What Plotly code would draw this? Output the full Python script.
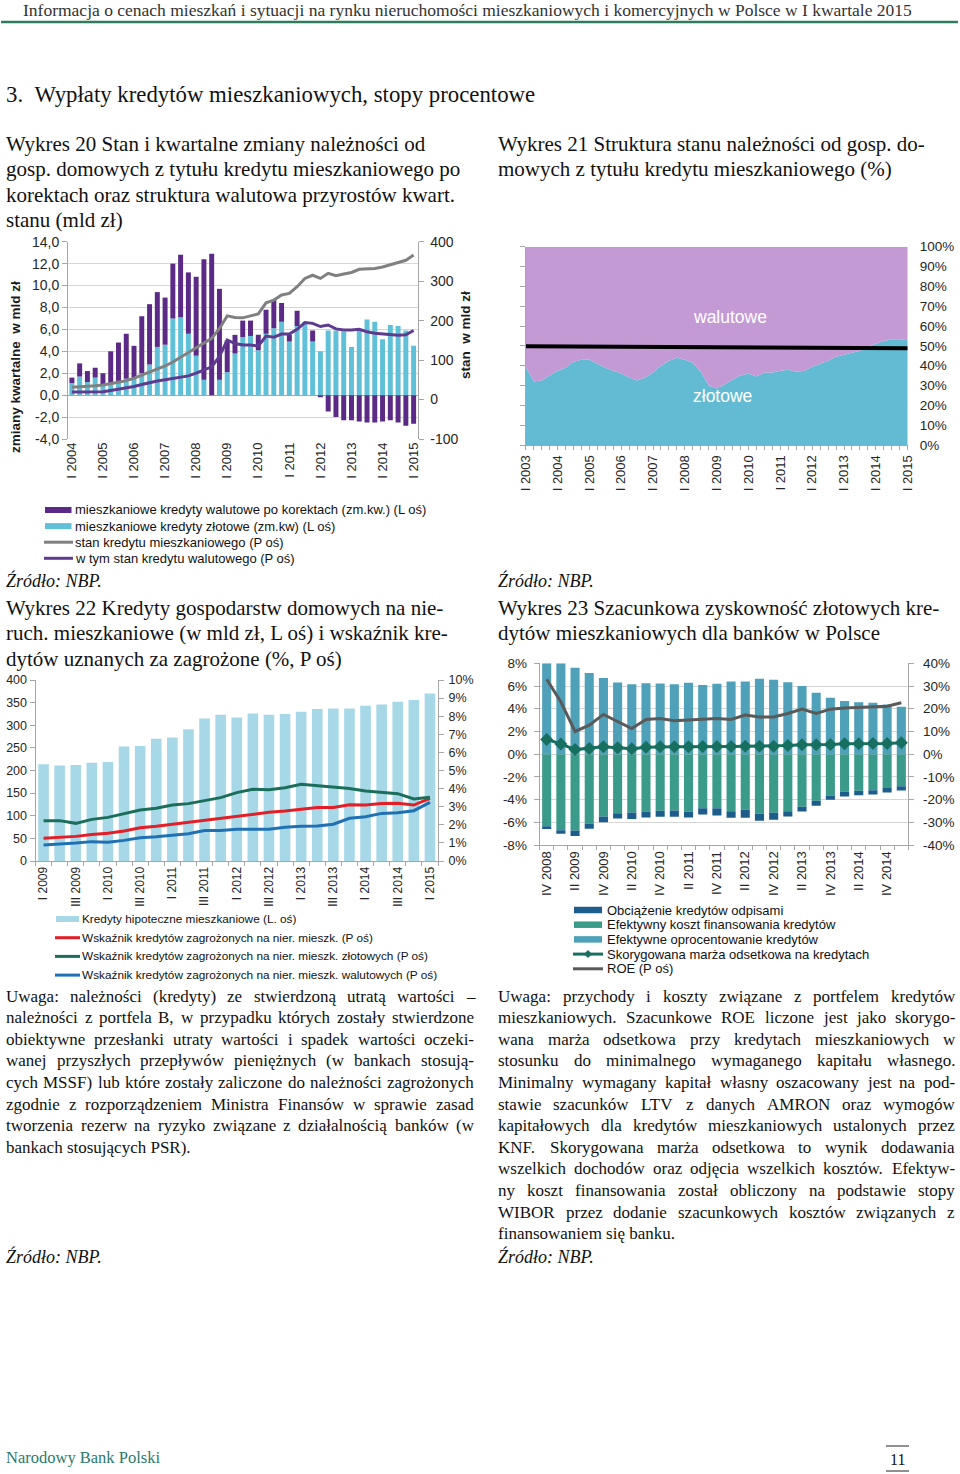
import plotly.graph_objects as go

W, H = 960, 1474


def px(x):
    return x / W


def py(y):
    return 1 - y / H


# ---------------- DATA ----------------
# Wykres 20 (I 2004 .. I 2015, quarterly)
years20 = ["I 2004", "I 2005", "I 2006", "I 2007", "I 2008", "I 2009", "I 2010",
           "I 2011", "I 2012", "I 2013", "I 2014", "I 2015"]
zlotowe20 = [1.1, 1.7, 1.2, 1.6, 1.0, 1.0, 1.3, 1.5, 1.6, 2.0, 2.8, 4.4,
             4.6, 7.0, 7.1, 5.6, 3.6, 1.4, 0.0, 1.4, 2.1, 3.8, 5.3, 5.4,
             4.1, 5.6, 6.1, 6.7, 4.9, 6.3, 6.7, 4.9, 4.0, 5.9, 5.9, 5.8,
             4.4, 5.9, 6.9, 6.7, 5.1, 6.4, 6.3, 5.9, 4.5]
walutowe20 = [0.5, 1.2, 1.0, 0.9, 1.0, 3.0, 3.5, 4.1, 2.9, 5.2, 5.5, 5.0,
              4.3, 5.0, 5.7, 5.6, 7.2, 11.0, 12.9, 8.3, 2.9, 1.7, 1.5, 1.4,
              1.4, 2.2, 2.6, 1.7, 0.6, 1.4, 0.0, 1.0, -0.2, -1.5, -2.0, -2.3,
              -2.3, -2.4, -2.5, -2.5, -2.4, -2.3, -2.5, -2.8, -2.6]
stan20 = [31, 32, 33, 35, 37, 40, 44, 48, 54, 62, 69, 77, 85, 95, 107, 119,
          129, 141, 155, 180, 212, 208, 207, 212, 217, 245, 252, 265, 269, 286,
          307, 315, 307, 320, 314, 318, 322, 330, 331, 332, 336, 342, 347, 353, 366]
stan_wal20 = [19, 19, 19, 20, 20, 23, 26, 29, 33, 38, 43, 47, 50, 53, 56, 60,
              67, 75, 83, 109, 151, 142, 138, 138, 136, 161, 158, 166, 166, 178,
              195, 193, 185, 189, 179, 176, 176, 178, 172, 168, 166, 164, 163, 164, 175]
yticks20 = ["-4,0", "-2,0", "0,0", "2,0", "4,0", "6,0", "8,0", "10,0", "12,0", "14,0"]
yticks20r = ["-100", "0", "100", "200", "300", "400"]

# Wykres 21 (I 2003 .. I 2015, quarterly shares, %)
years21 = ["I 2003", "I 2004", "I 2005", "I 2006", "I 2007", "I 2008", "I 2009",
           "I 2010", "I 2011", "I 2012", "I 2013", "I 2014", "I 2015"]
zlotowe21 = [39.5, 32, 32.5, 35, 37.5, 39, 42, 43, 43, 41, 39, 37.5, 36, 34, 32.5,
             34, 36.5, 40, 42.5, 44, 43, 41.5, 37, 30, 28.5, 30.5, 33, 35, 36, 34.5,
             36.5, 36.5, 37.5, 38, 37, 37.5, 39.5, 41, 42.5, 44.5, 45.5, 46.5, 47.5,
             49.5, 51, 52.5, 53.3, 53.3, 52.8]
walutowe21 = [60.5, 68, 67.5, 65, 62.5, 61, 58, 57, 57, 59, 61, 62.5, 64, 66, 67.5,
              66, 63.5, 60, 57.5, 56, 57, 58.5, 63, 70, 71.5, 69.5, 67, 65, 64, 65.5,
              63.5, 63.5, 62.5, 62, 63, 62.5, 60.5, 59, 57.5, 55.5, 54.5, 53.5, 52.5,
              50.5, 49, 47.5, 46.7, 46.7, 47.2]
linia21 = [49.8, 48.8]
yticks21 = ["0%", "10%", "20%", "30%", "40%", "50%", "60%", "70%", "80%", "90%", "100%"]

# Wykres 22 (I 2009 .. I 2015)
labels22 = ["I 2009", "III 2009", "I 2010", "III 2010", "I 2011", "III 2011", "I 2012",
            "III 2012", "I 2013", "III 2013", "I 2014", "III 2014", "I 2015"]
kredyty22 = [214, 211, 212, 217, 219, 253, 254, 270, 273, 291, 315, 323, 317, 326,
             323, 325, 330, 336, 337, 337, 343, 346, 352, 356, 370]
zagr22 = [1.25, 1.29, 1.36, 1.47, 1.53, 1.66, 1.84, 1.92, 2.03, 2.14, 2.25, 2.39, 2.50,
          2.60, 2.69, 2.76, 2.85, 2.95, 2.95, 3.11, 3.09, 3.17, 3.19, 3.09, 3.46]
zagr_zl22 = [2.23, 2.23, 2.08, 2.30, 2.41, 2.60, 2.82, 2.91, 3.09, 3.17, 3.33, 3.50, 3.78,
             3.96, 3.94, 4.05, 4.24, 4.16, 4.07, 4.01, 3.87, 3.78, 3.72, 3.43, 3.52]
zagr_wal22 = [0.88, 0.92, 0.99, 1.07, 1.03, 1.14, 1.29, 1.34, 1.44, 1.51, 1.68, 1.68, 1.75,
              1.75, 1.75, 1.86, 1.92, 1.93, 2.03, 2.36, 2.45, 2.63, 2.67, 2.78, 3.24]
yticks22 = ["0", "50", "100", "150", "200", "250", "300", "350", "400"]
yticks22r = ["0%", "1%", "2%", "3%", "4%", "5%", "6%", "7%", "8%", "9%", "10%"]

# Wykres 23 (IV 2008 .. I 2015)
labels23 = ["IV 2008", "II 2009", "IV 2009", "II 2010", "IV 2010", "II 2011", "IV 2011",
            "II 2012", "IV 2012", "II 2013", "IV 2013", "II 2014", "IV 2014"]
oproc23 = [8.0, 8.0, 7.6, 7.15, 6.7, 6.3, 6.15, 6.25, 6.22, 6.15, 6.28, 6.1, 6.2, 6.4,
           6.4, 6.63, 6.55, 6.34, 6.0, 5.4, 4.96, 4.67, 4.58, 4.52, 4.37, 4.17]
koszt23 = [-6.34, -6.7, -6.72, -6.1, -5.5, -5.2, -5.14, -5.05, -4.99, -4.96, -5.08, -4.76,
           -4.76, -5.02, -4.9, -5.23, -5.17, -5.02, -4.64, -4.11, -3.64, -3.32, -3.23,
           -3.17, -2.97, -2.82]
odpisy23 = [-0.26, -0.3, -0.48, -0.48, -0.5, -0.47, -0.56, -0.53, -0.53, -0.56, -0.5,
            -0.55, -0.64, -0.58, -0.7, -0.64, -0.61, -0.47, -0.41, -0.44, -0.38, -0.41,
            -0.38, -0.38, -0.41, -0.38]
marza23 = [1.3, 0.9, 0.4, 0.5, 0.65, 0.56, 0.47, 0.6, 0.65, 0.65, 0.65, 0.68, 0.68, 0.68,
           0.7, 0.7, 0.7, 0.76, 0.82, 0.82, 0.85, 0.91, 0.91, 0.94, 0.94, 1.0]
roe23 = [33, 23, 10, 12.8, 17.5, 14.5, 11.3, 15.3, 15.7, 14.7, 15, 15.4, 15.7, 15.3,
         17.2, 16.4, 16.4, 17.9, 19.8, 17.9, 19.8, 20.3, 20.6, 21.1, 21.1, 22.6]
yticks23 = ["-8%", "-6%", "-4%", "-2%", "0%", "2%", "4%", "6%", "8%"]
yticks23r = ["-40%", "-30%", "-20%", "-10%", "0%", "10%", "20%", "30%", "40%"]

# ---------------- STYLE ----------------
SANS = "Liberation Sans, Arial, sans-serif"
SERIF = "Liberation Serif, Times New Roman, serif"
AX = "#a6a6a6"
TXT = "#262626"

PURPLE_BAR = "#5b2a86"
CYAN_BAR = "#60c0d8"
GRAY_LINE = "#808080"
PURPLE_LINE = "#5e3b8f"
WAL_AREA = "#c49ad5"
ZL_AREA = "#62bbd3"
C22_BAR = "#a7d8e7"
RED = "#e41e26"
GREEN = "#1b6e59"
BLUE = "#2070b4"
C23_UP = "#4ea1b8"
C23_COST = "#3b9b8b"
C23_WO = "#1c5d8c"
C23_MARZA = "#17705f"
C23_ROE = "#5a5a5a"

fig = go.Figure()

# ---- Wykres 20
n20 = len(zlotowe20)
x20 = list(range(n20))
fig.add_trace(go.Bar(x=x20, y=zlotowe20, name="mieszkaniowe kredyty złotowe (zm.kw) (L oś)",
                     marker=dict(color=CYAN_BAR, line=dict(width=0)), width=0.64,
                     xaxis="x", yaxis="y"))
fig.add_trace(go.Bar(x=x20, y=walutowe20,
                     name="mieszkaniowe kredyty walutowe po korektach (zm.kw.) (L oś)",
                     marker=dict(color=PURPLE_BAR, line=dict(width=0)), width=0.64,
                     xaxis="x", yaxis="y"))
fig.add_trace(go.Scatter(x=x20, y=stan20, mode="lines", name="stan kredytu mieszkaniowego (P oś)",
                         line=dict(color=GRAY_LINE, width=3), xaxis="x", yaxis="y2"))
fig.add_trace(go.Scatter(x=x20, y=stan_wal20, mode="lines",
                         name="w tym stan kredytu walutowego (P oś)",
                         line=dict(color=PURPLE_LINE, width=3), xaxis="x", yaxis="y2"))

# ---- Wykres 21
n21 = len(zlotowe21)
x21 = list(range(n21))
fig.add_trace(go.Scatter(x=x21, y=zlotowe21, name="złotowe", mode="none", stackgroup="one",
                         fillcolor=ZL_AREA, xaxis="x2", yaxis="y3"))
fig.add_trace(go.Scatter(x=x21, y=walutowe21, name="walutowe", mode="none", stackgroup="one",
                         fillcolor=WAL_AREA, xaxis="x2", yaxis="y3"))
fig.add_trace(go.Scatter(x=[x21[0], x21[-1]], y=linia21, mode="lines", name="50%",
                         line=dict(color="#000000", width=4), xaxis="x2", yaxis="y4"))

# ---- Wykres 22
n22 = len(kredyty22)
x22 = list(range(n22))
fig.add_trace(go.Bar(x=x22, y=kredyty22, name="Kredyty hipoteczne mieszkaniowe (L. oś)",
                     marker=dict(color=C22_BAR, line=dict(width=0)), width=0.66,
                     xaxis="x3", yaxis="y5"))
fig.add_trace(go.Scatter(x=x22, y=zagr22, mode="lines",
                         name="Wskaźnik kredytów zagrożonych na nier. mieszk. (P oś)",
                         line=dict(color=RED, width=3), xaxis="x3", yaxis="y6"))
fig.add_trace(go.Scatter(x=x22, y=zagr_zl22, mode="lines",
                         name="Wskaźnik kredytów zagrożonych na nier. mieszk. złotowych (P oś)",
                         line=dict(color=GREEN, width=3), xaxis="x3", yaxis="y6"))
fig.add_trace(go.Scatter(x=x22, y=zagr_wal22, mode="lines",
                         name="Wskaźnik kredytów zagrożonych na nier. mieszk. walutowych (P oś)",
                         line=dict(color=BLUE, width=3), xaxis="x3", yaxis="y6"))

# ---- Wykres 23
n23 = len(oproc23)
x23 = list(range(n23))
fig.add_trace(go.Bar(x=x23, y=koszt23, name="Efektywny koszt finansowania kredytów",
                     marker=dict(color=C23_COST, line=dict(width=0)), width=0.64,
                     xaxis="x4", yaxis="y7"))
fig.add_trace(go.Bar(x=x23, y=odpisy23, name="Obciążenie kredytów odpisami",
                     marker=dict(color=C23_WO, line=dict(width=0)), width=0.64,
                     xaxis="x4", yaxis="y7"))
fig.add_trace(go.Bar(x=x23, y=oproc23, name="Efektywne oprocentowanie kredytów",
                     marker=dict(color=C23_UP, line=dict(width=0)), width=0.64,
                     xaxis="x4", yaxis="y7"))
fig.add_trace(go.Scatter(x=x23, y=marza23, mode="lines+markers",
                         name="Skorygowana marża odsetkowa na kredytach",
                         line=dict(color=C23_MARZA, width=3),
                         marker=dict(symbol="diamond", size=10, color=C23_MARZA),
                         xaxis="x4", yaxis="y7"))
fig.add_trace(go.Scatter(x=x23, y=roe23, mode="lines", name="ROE (P oś)",
                         line=dict(color=C23_ROE, width=3), xaxis="x4", yaxis="y8"))

# ---------------- AXES ----------------
tf = lambda s: dict(family=SANS, size=s, color=TXT)


def yax(dom, rng, vals, text, side="left", grid=False, overlay=None, anchor=None,
        size=13, labels=True, zeroline=False, standoff=0):
    d = dict(range=rng, tickmode="array", tickvals=vals, ticktext=text, side=side,
             showgrid=grid, gridcolor="#d6d6d6", gridwidth=1, zeroline=zeroline,
             zerolinecolor=AX, zerolinewidth=1, automargin=False,
             showline=True, linecolor=AX, linewidth=1, ticks="outside", ticklen=5,
             tickcolor=AX, tickfont=tf(size), showticklabels=labels, fixedrange=True,
             ticklabelstandoff=standoff)
    if overlay:
        d["overlaying"] = overlay
    else:
        d["domain"] = dom
    if anchor:
        d["anchor"] = anchor
    return d


def rng_vals(a, b, step):
    out, v = [], a
    while v <= b + 1e-9:
        out.append(v)
        v += step
    return out


layout = dict(
    width=W, height=H, margin=dict(l=0, r=0, t=0, b=0, autoexpand=False),
    paper_bgcolor="white", plot_bgcolor="rgba(0,0,0,0)",
    barmode="relative", showlegend=False, hovermode=False,
)

# chart 20
layout["xaxis"] = dict(domain=[px(68), px(417.5)], anchor="y", range=[-0.5, n20 - 0.5],
                       tickmode="array", tickvals=[4 * i for i in range(len(years20))],
                       ticktext=years20, tickangle=-90, ticks="", showline=False,
                       showgrid=False, zeroline=False, tickfont=tf(13), fixedrange=True,
                       automargin=False)
layout["yaxis"] = yax([py(439), py(241.7)], [-4, 14], rng_vals(-4, 14, 2), yticks20,
                      grid=True, anchor="x", size=14, zeroline=True)
layout["yaxis2"] = yax(None, [-100, 400], rng_vals(-100, 400, 100), yticks20r, side="right",
                       overlay="y", anchor="x", size=14, standoff=4)

# chart 21
layout["xaxis2"] = dict(domain=[px(525.7), px(907.7)], anchor="y3", range=[0, n21 - 1],
                        tickmode="array", tickvals=[4 * i for i in range(len(years21))],
                        ticktext=years21, tickangle=-90, ticks="outside", ticklen=4,
                        tickcolor=AX, showline=True, linecolor=AX, showgrid=False,
                        zeroline=False, tickfont=tf(13), fixedrange=True, automargin=False,
                        minor=dict(ticks="outside", tick0=0, dtick=1, ticklen=4,
                                   tickcolor=AX, showgrid=False))
layout["yaxis3"] = yax([py(445), py(246.7)], [0, 100], rng_vals(0, 100, 10), yticks21,
                       anchor="x2", labels=False)
layout["yaxis4"] = yax(None, [0, 100], rng_vals(0, 100, 10), yticks21, side="right",
                       overlay="y3", anchor="x2", size=13.5, standoff=11)
layout["yaxis4"].update(showline=False, ticks="")

# chart 22
layout["xaxis3"] = dict(domain=[px(35.5), px(438)], anchor="y5", range=[-0.5, n22 - 0.5],
                        tickmode="array", tickvals=[2 * i for i in range(len(labels22))],
                        ticktext=labels22, tickangle=-90, ticks="", showline=True,
                        linecolor=AX, showgrid=False, zeroline=False, tickfont=tf(12),
                        fixedrange=True, automargin=False,
                        minor=dict(ticks="outside", tick0=-0.5, dtick=1, ticklen=4,
                                   tickcolor=AX, showgrid=False))
layout["yaxis5"] = yax([py(861), py(680)], [0, 400], rng_vals(0, 400, 50), yticks22,
                       anchor="x3", size=12.5)
layout["yaxis6"] = yax(None, [0, 10], rng_vals(0, 10, 1), yticks22r, side="right",
                       overlay="y5", anchor="x3", size=12.5, standoff=2)

# chart 23
layout["xaxis4"] = dict(domain=[px(539.6), px(908.4)], anchor="y7", range=[-0.5, n23 - 0.5],
                        tickmode="array", tickvals=[2 * i for i in range(len(labels23))],
                        ticktext=labels23, tickangle=-90, ticks="", showline=True,
                        linecolor=AX, showgrid=False, zeroline=False, tickfont=tf(13),
                        fixedrange=True, automargin=False,
                        minor=dict(ticks="outside", tick0=-0.5, dtick=1, ticklen=4,
                                   tickcolor=AX, showgrid=False))
layout["yaxis7"] = yax([py(845), py(663.3)], [-8, 8], rng_vals(-8, 8, 2), yticks23,
                       grid=True, anchor="x4", size=13.5, standoff=4)
layout["yaxis8"] = yax(None, [-40, 40], rng_vals(-40, 40, 10), yticks23r, side="right",
                       overlay="y7", anchor="x4", size=13.5, standoff=6)

fig.update_layout(**layout)

# ---------------- TEXT ----------------
annotations = []
shapes = []


def ann(text, x, y, size, family=SERIF, color="#111111", xanchor="left", **kw):
    annotations.append(dict(text=text, x=px(x), y=py(y), xref="paper", yref="paper",
                            xanchor=xanchor, yanchor="middle", showarrow=False,
                            borderpad=0, font=dict(family=family, size=size, color=color),
                            **kw))


TW = {" ": 250, "!": 333, "%": 833, "(": 333, ")": 333, ",": 250, "-": 333, ".": 250,
      ":": 278, ";": 278, "–": 500, "/": 278,
      "A": 722, "B": 667, "C": 667, "D": 722, "E": 611, "F": 556, "G": 722, "H": 722,
      "I": 333, "J": 389, "K": 722, "L": 611, "M": 889, "N": 722, "O": 722, "P": 556,
      "Q": 722, "R": 667, "S": 556, "T": 611, "U": 722, "V": 722, "W": 944, "X": 722,
      "Y": 722, "Z": 611, "Ś": 556, "Ź": 611, "Ż": 611, "Ł": 611,
      "a": 444, "b": 500, "c": 444, "d": 500, "e": 444, "f": 333, "g": 500, "h": 500,
      "i": 278, "j": 278, "k": 500, "l": 278, "m": 778, "n": 500, "o": 500, "p": 500,
      "q": 500, "r": 333, "s": 389, "t": 278, "u": 500, "v": 500, "w": 722, "x": 500,
      "y": 500, "z": 444, "ą": 444, "ć": 444, "ę": 444, "ł": 278, "ń": 500, "ó": 500,
      "ś": 389, "ź": 444, "ż": 444}


def tw(s, size):
    return sum(TW.get(ch, 500) for ch in s) * size / 1000.0


def justified(lines, x0, x1, y0, dy, size):
    for k, line in enumerate(lines):
        y = y0 + k * dy
        words = line.split(" ")
        if k == len(lines) - 1 or len(words) == 1:
            ann(line, x0, y, size)
            continue
        widths = [tw(w, size) for w in words]
        gap = (x1 - x0 - sum(widths)) / (len(words) - 1)
        gap = max(gap, 0.22 * size)
        x = x0
        for w, wd in zip(words, widths):
            ann(w, x, y, size)
            x += wd + gap


NB = "\u00a0"
# header
ann("Informacja o cenach mieszkań i sytuacji na rynku nieruchomości mieszkaniowych i "
    "komercyjnych w Polsce w I kwartale 2015", 467, 10, 17.5, color="#333333",
    xanchor="center")
shapes.append(dict(type="line", xref="paper", yref="paper", x0=px(1), x1=px(958),
                   y0=py(22), y1=py(22), line=dict(color="#2e7b5e", width=2.5)))
ann("3." + NB + NB + "Wypłaty kredytów mieszkaniowych, stopy procentowe", 5, 94, 22.8)

TS = 21
for k, t in enumerate(["Wykres 20 Stan i kwartalne zmiany należności od",
                       "gosp. domowych z tytułu kredytu mieszkaniowego po",
                       "korektach oraz struktura walutowa przyrostów kwart.",
                       "stanu (mld zł)"]):
    ann(t, 5, 144 + k * 25.4, TS)
for k, t in enumerate(["Wykres 21 Struktura stanu należności od gosp. do-",
                       "mowych z tytułu kredytu mieszkaniowego (%)"]):
    ann(t, 497, 144 + k * 25.4, TS)
for k, t in enumerate(["Wykres 22 Kredyty gospodarstw domowych na nie-",
                       "ruch. mieszkaniowe (w mld zł, L oś) i wskaźnik kre-",
                       "dytów uznanych za zagrożone (%, P oś)"]):
    ann(t, 5, 608 + k * 25.4, TS)
for k, t in enumerate(["Wykres 23 Szacunkowa zyskowność złotowych kre-",
                       "dytów mieszkaniowych dla banków w Polsce"]):
    ann(t, 497, 608 + k * 25.4, TS)

for (x, y) in [(5, 580), (497, 580), (5, 1256), (497, 1256)]:
    ann("<i>Źródło: NBP.</i>", x, y, 18)

# axis titles chart 20
ann("<b>zmiany kwartalne" + NB + NB + "w mld zł</b>", 15, 367, 13.5, family=SANS,
    color="#1a1a1a", xanchor="center", textangle=-90)
ann("<b>stan" + NB + NB + "w mld zł</b>", 465, 335, 13.5, family=SANS, color="#1a1a1a",
    xanchor="center", textangle=-90)

# area labels chart 21
ann("walutowe", 730, 317, 17.5, family=SANS, color="white", xanchor="center")
ann("złotowe", 722, 396, 17.5, family=SANS, color="white", xanchor="center")


# legends (manual)
def leg_rect(x0, x1, y, h, color):
    shapes.append(dict(type="rect", xref="paper", yref="paper", x0=px(x0), x1=px(x1),
                       y0=py(y - h / 2), y1=py(y + h / 2), line=dict(width=0),
                       fillcolor=color))


def leg_line(x0, x1, y, color, w=3):
    shapes.append(dict(type="line", xref="paper", yref="paper", x0=px(x0), x1=px(x1),
                       y0=py(y), y1=py(y), line=dict(color=color, width=w)))


# chart 20 legend
L20 = [("rect", PURPLE_BAR, "mieszkaniowe kredyty walutowe po korektach (zm.kw.) (L oś)"),
       ("rect", CYAN_BAR, "mieszkaniowe kredyty złotowe (zm.kw) (L oś)"),
       ("line", GRAY_LINE, "stan kredytu mieszkaniowego (P oś)"),
       ("line", PURPLE_LINE, "w tym stan kredytu walutowego (P oś)")]
for k, (kind, col, txt) in enumerate(L20):
    y = 510 + k * 16.1
    if kind == "rect":
        leg_rect(45, 71.5, y, 6, col)
    else:
        leg_line(44, 73, y, col)
    ann(txt, 74, y, 13, family=SANS, color="#111111")

# chart 22 legend
L22 = [("rect", C22_BAR, "Kredyty hipoteczne mieszkaniowe (L. oś)"),
       ("line", RED, "Wskaźnik kredytów zagrożonych na nier. mieszk. (P oś)"),
       ("line", GREEN, "Wskaźnik kredytów zagrożonych na nier. mieszk. złotowych (P oś)"),
       ("line", BLUE, "Wskaźnik kredytów zagrożonych na nier. mieszk. walutowych (P oś)")]
for k, (kind, col, txt) in enumerate(L22):
    y = 919 + k * 18.7
    if kind == "rect":
        leg_rect(56, 79, y, 6, col)
    else:
        leg_line(55, 80, y, col)
    ann(txt, 81, y, 11.8, family=SANS, color="#111111")

# chart 23 legend
L23 = [("rect", C23_WO, "Obciążenie kredytów odpisami"),
       ("rect", C23_COST, "Efektywny koszt finansowania kredytów"),
       ("rect", C23_UP, "Efektywne oprocentowanie kredytów"),
       ("marker", C23_MARZA, "Skorygowana marża odsetkowa na kredytach"),
       ("line", C23_ROE, "ROE (P oś)")]
for k, (kind, col, txt) in enumerate(L23):
    y = 910 + k * 14.7
    if kind == "rect":
        leg_rect(574, 602, y, 6.5, col)
    else:
        leg_line(573, 603, y, col)
        if kind == "marker":
            d = 4
            shapes.append(dict(type="path", xref="paper", yref="paper",
                               path=f"M {px(588)} {py(y - d)} L {px(588 + d)} {py(y)} "
                                    f"L {px(588)} {py(y + d)} L {px(588 - d)} {py(y)} Z",
                               fillcolor=col, line=dict(width=0)))
    ann(txt, 606, y, 13, family=SANS, color="#111111")

# body text
BS = 17
left_text = [
    "Uwaga: należności (kredyty) ze stwierdzoną utratą wartości –",
    "należności z portfela B, w przypadku których zostały stwierdzone",
    "obiektywne przesłanki utraty wartości i spadek wartości oczeki-",
    "wanej przyszłych przepływów pieniężnych (w bankach stosują-",
    "cych MSSF) lub które zostały zaliczone do należności zagrożonych",
    "zgodnie z rozporządzeniem Ministra Finansów w sprawie zasad",
    "tworzenia rezerw na ryzyko związane z działalnością banków (w",
    "bankach stosujących PSR).",
]
right_text = [
    "Uwaga: przychody i koszty związane z portfelem kredytów",
    "mieszkaniowych. Szacunkowe ROE liczone jest jako skorygo-",
    "wana marża odsetkowa przy kredytach mieszkaniowych w",
    "stosunku do minimalnego wymaganego kapitału własnego.",
    "Minimalny wymagany kapitał własny oszacowany jest na pod-",
    "stawie szacunków LTV z danych AMRON oraz wymogów",
    "kapitałowych dla kredytów mieszkaniowych ustalonych przez",
    "KNF. Skorygowana marża odsetkowa to wynik dodawania",
    "wszelkich dochodów oraz odjęcia wszelkich kosztów. Efektyw-",
    "ny koszt finansowania został obliczony na podstawie stopy",
    "WIBOR przez dodanie szacunkowych kosztów związanych z",
    "finansowaniem się banku.",
]
justified(left_text, 5, 473, 996, 21.6, BS)
justified(right_text, 497, 954, 996, 21.6, BS)

# footer
ann("Narodowy Bank Polski", 5, 1457, 16.5, color="#2b7a6c")
ann("11", 897, 1459, 16, xanchor="center")
shapes.append(dict(type="line", xref="paper", yref="paper", x0=px(886), x1=px(909),
                   y0=py(1446), y1=py(1446), line=dict(color="#222222", width=1)))
shapes.append(dict(type="line", xref="paper", yref="paper", x0=px(886), x1=px(909),
                   y0=py(1471), y1=py(1471), line=dict(color="#222222", width=1)))

fig.update_layout(annotations=annotations, shapes=shapes)
fig.write_html("out.html",
               config={"displayModeBar": False, "staticPlot": True},
               post_script="document.body.style.margin='0';"
                           "document.documentElement.style.margin='0';")
